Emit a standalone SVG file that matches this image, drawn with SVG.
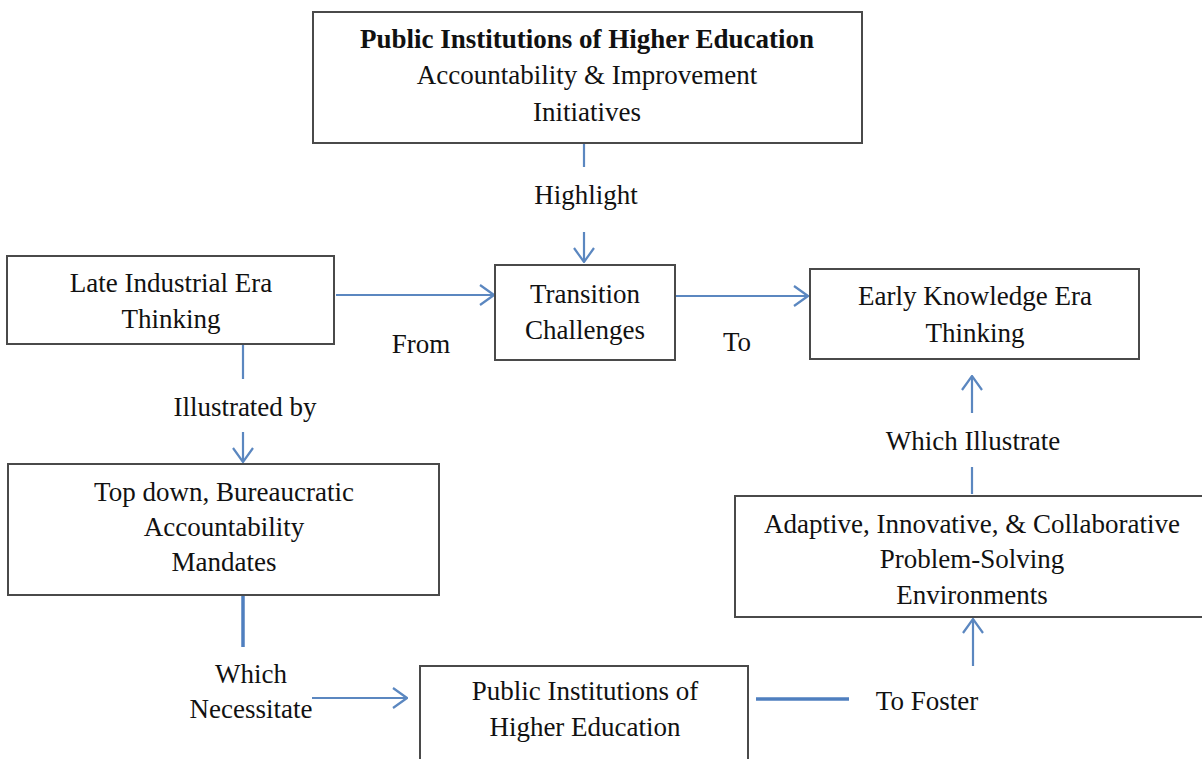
<svg xmlns="http://www.w3.org/2000/svg" width="1202" height="759" viewBox="0 0 1202 759">
<style>
.box{fill:#fff;stroke:#4a4a4a;stroke-width:2}
.t{font-family:"Liberation Serif","Times New Roman",serif;font-size:27px;fill:#111;text-anchor:middle}
.b{font-weight:bold}
.c{stroke:#5b87c0;stroke-width:2.2;fill:none}
.k{stroke:#4f7fbf;stroke-width:3.5;fill:none}
</style>
<defs>
<marker id="ah" viewBox="0 0 16 22" refX="15" refY="11" markerWidth="16" markerHeight="22" markerUnits="userSpaceOnUse" orient="auto">
<path d="M1,1 L15,11 L1,21" fill="none" stroke="#5b87c0" stroke-width="2.2"/>
</marker>
</defs>
<rect width="1202" height="759" fill="#fff"/>
<g id="connectors">
<line class="c" x1="584" y1="143" x2="584" y2="167"/>
<line class="c" x1="584" y1="232" x2="584" y2="262" marker-end="url(#ah)"/>
<line class="c" x1="336" y1="295" x2="494" y2="295" marker-end="url(#ah)"/>
<line class="c" x1="676" y1="296" x2="808" y2="296" marker-end="url(#ah)"/>
<line class="c" x1="243" y1="344" x2="243" y2="379"/>
<line class="c" x1="243" y1="432" x2="243" y2="462" marker-end="url(#ah)"/>
<line class="k" x1="243" y1="596" x2="243" y2="647"/>
<line class="c" x1="312" y1="698" x2="407" y2="698" marker-end="url(#ah)"/>
<line class="k" x1="756" y1="699" x2="849" y2="699"/>
<line class="c" x1="973" y1="666" x2="973" y2="619" marker-end="url(#ah)"/>
<line class="c" x1="972" y1="494" x2="972" y2="467"/>
<line class="c" x1="972" y1="413" x2="972" y2="376" marker-end="url(#ah)"/>
<text class="t" x="586" y="204">Highlight</text>
<text class="t" x="421" y="353">From</text>
<text class="t" x="737" y="351">To</text>
<text class="t" x="245" y="416">Illustrated by</text>
<text class="t" x="973" y="450">Which Illustrate</text>
<text class="t" x="251" y="683">Which</text>
<text class="t" x="251" y="718">Necessitate</text>
<text class="t" x="927" y="710">To Foster</text>
</g>
<g id="node-top">
<rect class="box" x="313" y="12" width="549" height="131"/>
<text class="t b" x="587" y="48">Public Institutions of Higher Education</text>
<text class="t" x="587" y="84">Accountability &amp; Improvement</text>
<text class="t" x="587" y="121">Initiatives</text>
</g>
<g id="node-late">
<rect class="box" x="7" y="256" width="327" height="88"/>
<text class="t" x="171" y="292">Late Industrial Era</text>
<text class="t" x="171" y="328">Thinking</text>
</g>
<g id="node-transition">
<rect class="box" x="495" y="265" width="180" height="95"/>
<text class="t" x="585" y="303">Transition</text>
<text class="t" x="585" y="339">Challenges</text>
</g>
<g id="node-early">
<rect class="box" x="810" y="269" width="329" height="90"/>
<text class="t" x="975" y="305">Early Knowledge Era</text>
<text class="t" x="975" y="342">Thinking</text>
</g>
<g id="node-topdown">
<rect class="box" x="8" y="464" width="431" height="131"/>
<text class="t" x="224" y="501">Top down, Bureaucratic</text>
<text class="t" x="224" y="536">Accountability</text>
<text class="t" x="224" y="571">Mandates</text>
</g>
<g id="node-adaptive">
<rect class="box" x="735" y="496" width="475" height="121"/>
<text class="t" x="972" y="533">Adaptive, Innovative, &amp; Collaborative</text>
<text class="t" x="972" y="568">Problem-Solving</text>
<text class="t" x="972" y="604">Environments</text>
</g>
<g id="node-public">
<rect class="box" x="420" y="666" width="328" height="110"/>
<text class="t" x="585" y="700">Public Institutions of</text>
<text class="t" x="585" y="736">Higher Education</text>
</g>
</svg>
